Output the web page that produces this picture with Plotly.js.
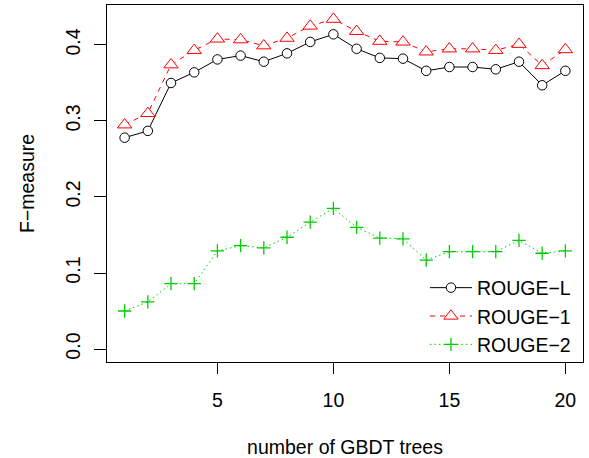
<!DOCTYPE html>
<html>
<head>
<meta charset="utf-8">
<script src="https://cdn.plot.ly/plotly-3.0.1.min.js"></script>
<style>html,body{margin:0;padding:0;background:#fff;}#chart{width:589px;height:458px;}</style>
</head>
<body>
<div id="chart"></div>
<script>
const trees = [1,2,3,4,5,6,7,8,9,10,11,12,13,14,15,16,17,18,19,20];
const rougeL = [0.278,0.287,0.350,0.364,0.381,0.386,0.378,0.389,0.404,0.414,0.395,0.383,0.382,0.366,0.371,0.371,0.368,0.378,0.347,0.366];
const rouge1 = [0.295,0.310,0.374,0.393,0.408,0.407,0.399,0.409,0.425,0.434,0.418,0.405,0.404,0.391,0.395,0.395,0.393,0.401,0.373,0.394];
const rouge2 = [0.050,0.062,0.086,0.086,0.129,0.136,0.133,0.147,0.167,0.185,0.160,0.146,0.145,0.117,0.128,0.128,0.128,0.143,0.126,0.129];
const seriesNames = ["ROUGE\u2212L","ROUGE\u22121","ROUGE\u22122"];
const xTicks = [5,10,15,20];
const yTicks = [0,0.1,0.2,0.3,0.4];
const yTickText = ["0.0","0.1","0.2","0.3","0.4"];

const FONT = "Liberation Sans, Arial, Helvetica, sans-serif";
const FS = 19.5;

const traces = [
  {x: trees, y: rougeL, name: seriesNames[0], mode: "lines+markers",
   line: {color: "#000000", width: 1, dash: "solid"},
   marker: {symbol: "circle", size: 9.5, color: "#ffffff", line: {color: "#000000", width: 1}}},
  {x: trees, y: rouge1, name: seriesNames[1], mode: "lines+markers",
   line: {color: "#ff0000", width: 1, dash: "5px,5px"},
   marker: {symbol: "triangle-up", size: 12.5, color: "#ffffff", line: {color: "#ff0000", width: 1}}},
  {x: trees, y: rouge2, name: seriesNames[2], mode: "lines+markers",
   line: {color: "#00cd00", width: 1, dash: "1.5px,3px"},
   marker: {symbol: "cross-thin-open", size: 9.5, color: "#00cd00", line: {color: "#00cd00", width: 1.3}}}
];

const layout = {
  width: 589, height: 458,
  margin: {l: 107, r: 6, t: 5, b: 96, pad: 0},
  paper_bgcolor: "#ffffff", plot_bgcolor: "#ffffff",
  font: {family: FONT, size: FS, color: "#000000"},
  showlegend: true,
  legend: {x: 0.668, y: 0.262, xanchor: "left", yanchor: "top", bgcolor: "rgba(0,0,0,0)",
           borderwidth: 0, itemwidth: 42, font: {family: FONT, size: FS, color: "#000000"}},
  xaxis: {
    range: [0.24, 20.76], tickvals: xTicks, ticktext: xTicks.map(String),
    ticks: "outside", ticklen: 11, tickwidth: 1, tickcolor: "#000000",
    showline: true, mirror: true, linecolor: "#000000", linewidth: 1,
    showgrid: false, zeroline: false, ticklabelstandoff: 10,
    title: {text: "number of GBDT trees", font: {family: FONT, size: FS}, standoff: 37},
    automargin: false
  },
  yaxis: {
    range: [-0.0171, 0.4526], tickvals: yTicks, ticktext: yTickText, tickangle: -90,
    ticks: "outside", ticklen: 12, tickwidth: 1, tickcolor: "#000000",
    showline: true, mirror: true, linecolor: "#000000", linewidth: 1,
    showgrid: false, zeroline: false, ticklabelstandoff: 6,
    title: {text: "F\u2212measure", font: {family: FONT, size: FS}, standoff: 22},
    automargin: false
  }
};

Plotly.newPlot("chart", traces, layout, {displayModeBar: false, staticPlot: true});
</script>
</body>
</html>
